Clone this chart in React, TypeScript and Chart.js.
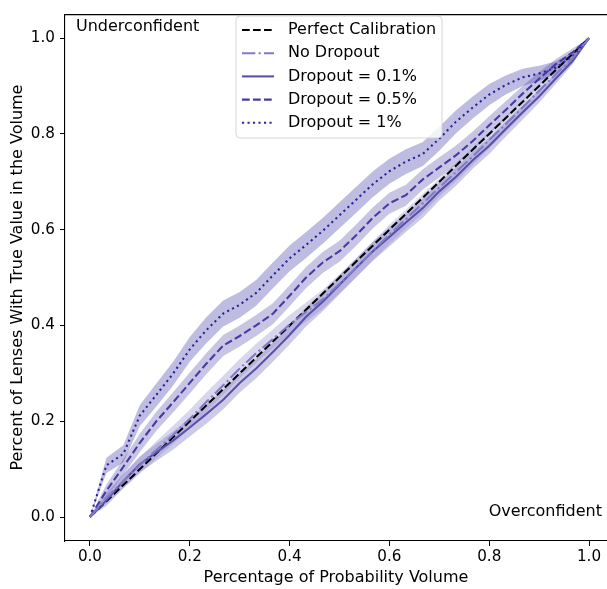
import React, { useEffect, useRef } from 'react';
import { Chart, registerables } from 'chart.js';

Chart.register(...registerables);

const xValues = [0, 0.033, 0.067, 0.1, 0.133, 0.167, 0.2, 0.233, 0.267, 0.3, 0.333, 0.367, 0.4, 0.433, 0.467, 0.5, 0.533, 0.567, 0.6, 0.633, 0.667, 0.7, 0.733, 0.767, 0.8, 0.833, 0.867, 0.9, 0.933, 0.967, 1.0];

const perfectX = [0, 1];
const perfectY = [0, 1];

const noDropoutMean = [0, 0.04, 0.075, 0.108, 0.14, 0.172, 0.205, 0.24, 0.275, 0.31, 0.342, 0.372, 0.402, 0.428, 0.455, 0.487, 0.52, 0.556, 0.59, 0.622, 0.655, 0.688, 0.72, 0.753, 0.787, 0.82, 0.855, 0.89, 0.924, 0.958, 1.0];
const noDropoutSpread = [0, 0.012, 0.015, 0.017, 0.018, 0.019, 0.019, 0.02, 0.02, 0.02, 0.02, 0.02, 0.02, 0.02, 0.02, 0.02, 0.02, 0.02, 0.02, 0.02, 0.02, 0.019, 0.019, 0.018, 0.017, 0.016, 0.015, 0.013, 0.011, 0.007, 0];

const dropout01Mean = [0, 0.035, 0.075, 0.11, 0.135, 0.16, 0.187, 0.215, 0.245, 0.28, 0.31, 0.345, 0.38, 0.418, 0.45, 0.485, 0.52, 0.555, 0.585, 0.615, 0.645, 0.68, 0.71, 0.745, 0.775, 0.81, 0.845, 0.878, 0.915, 0.952, 1.0];
const dropout01Spread = [0, 0.012, 0.015, 0.017, 0.018, 0.019, 0.019, 0.02, 0.02, 0.02, 0.02, 0.02, 0.02, 0.02, 0.02, 0.02, 0.02, 0.02, 0.02, 0.02, 0.02, 0.019, 0.019, 0.018, 0.017, 0.016, 0.015, 0.013, 0.011, 0.007, 0];

const dropout05Mean = [0, 0.055, 0.105, 0.155, 0.2, 0.24, 0.28, 0.32, 0.358, 0.378, 0.4, 0.425, 0.462, 0.5, 0.532, 0.555, 0.588, 0.625, 0.655, 0.672, 0.705, 0.73, 0.755, 0.785, 0.818, 0.85, 0.884, 0.915, 0.945, 0.97, 1.0];
const dropout05Spread = [0, 0.013, 0.016, 0.019, 0.02, 0.021, 0.022, 0.022, 0.022, 0.022, 0.022, 0.022, 0.022, 0.022, 0.022, 0.022, 0.022, 0.022, 0.022, 0.022, 0.021, 0.021, 0.02, 0.02, 0.019, 0.018, 0.016, 0.014, 0.011, 0.008, 0];

const dropout1Mean = [0, 0.108, 0.132, 0.212, 0.255, 0.3, 0.35, 0.39, 0.425, 0.443, 0.468, 0.505, 0.54, 0.568, 0.598, 0.63, 0.662, 0.695, 0.722, 0.742, 0.758, 0.79, 0.825, 0.855, 0.882, 0.902, 0.918, 0.926, 0.938, 0.962, 1.0];
const dropout1Spread = [0, 0.016, 0.018, 0.022, 0.024, 0.025, 0.026, 0.027, 0.027, 0.027, 0.027, 0.027, 0.027, 0.027, 0.027, 0.027, 0.027, 0.027, 0.026, 0.026, 0.025, 0.025, 0.024, 0.023, 0.022, 0.02, 0.018, 0.016, 0.013, 0.009, 0];

const xTicks = [0, 0.2, 0.4, 0.6, 0.8, 1.0];
const yTicks = [0, 0.2, 0.4, 0.6, 0.8, 1.0];

const seriesNames = ['No Dropout', 'Dropout = 0.1%', 'Dropout = 0.5%', 'Dropout = 1%'];
const seriesMeans = [noDropoutMean, dropout01Mean, dropout05Mean, dropout1Mean];
const seriesSpreads = [noDropoutSpread, dropout01Spread, dropout05Spread, dropout1Spread];
const seriesColors: [number, number, number][] = [
  [128, 122, 200],
  [88, 80, 172],
  [70, 58, 166],
  [44, 32, 156],
];
const seriesDashes = [
  [13.3, 3.3, 2.1, 3.3],
  [],
  [7.7, 3.3],
  [2.1, 3.4],
];

const FONT = '"DejaVu Sans", sans-serif';
const FS_TEXT = 16;
const FS_TICK = 15.2;

const rgba = (c: [number, number, number], a: number) => `rgba(${c[0]},${c[1]},${c[2]},${a})`;

export default function App() {
  const ref = useRef<HTMLCanvasElement | null>(null);

  useEffect(() => {
    const canvas = ref.current;
    if (!canvas) return;

    const datasets: any[] = [];
    seriesMeans.forEach((mean, s) => {
      const spread = seriesSpreads[s];
      const lowerIdx = datasets.length;
      datasets.push({
        label: '_band_lo_' + s,
        data: xValues.map((x, i) => ({ x, y: mean[i] - spread[i] })),
        showLine: true,
        borderWidth: 0,
        borderColor: 'rgba(0,0,0,0)',
        pointRadius: 0,
        fill: false,
        order: 2,
      });
      datasets.push({
        label: '_band_hi_' + s,
        data: xValues.map((x, i) => ({ x, y: mean[i] + spread[i] })),
        showLine: true,
        borderWidth: 0,
        borderColor: 'rgba(0,0,0,0)',
        pointRadius: 0,
        fill: lowerIdx,
        backgroundColor: rgba(seriesColors[s], 0.3),
        order: 2,
      });
    });
    datasets.push({
      label: 'Perfect Calibration',
      data: perfectX.map((x, i) => ({ x, y: perfectY[i] })),
      showLine: true,
      borderColor: '#000',
      borderWidth: 2.08,
      borderDash: [7.7, 3.3],
      pointRadius: 0,
      fill: false,
      order: 1,
    });
    seriesMeans.forEach((mean, s) => {
      datasets.push({
        label: seriesNames[s],
        data: xValues.map((x, i) => ({ x, y: mean[i] })),
        showLine: true,
        borderColor: rgba(seriesColors[s], 1),
        borderWidth: 2.08,
        borderDash: seriesDashes[s],
        pointRadius: 0,
        fill: false,
        order: 0,
      });
    });

    const overlay = {
      id: 'overlay',
      afterDraw(chart: any) {
        const { ctx, chartArea } = chart;
        ctx.save();
        ctx.strokeStyle = '#000';
        ctx.lineWidth = 1.1;
        ctx.beginPath();
        ctx.moveTo(chartArea.left, chartArea.top + 0.5);
        ctx.lineTo(chartArea.right, chartArea.top + 0.5);
        ctx.stroke();

        ctx.font = `${FS_TEXT}px ${FONT}`;
        ctx.fillStyle = '#000';
        ctx.textBaseline = 'middle';
        ctx.textAlign = 'left';
        ctx.fillText('Underconfident', 76, 27);
        ctx.textAlign = 'right';
        ctx.fillText('Overconfident', 602, 512);

        const bx = 236, by = 16, bw = 206, bh = 122, r = 4;
        ctx.beginPath();
        ctx.moveTo(bx + r, by);
        ctx.lineTo(bx + bw - r, by);
        ctx.arcTo(bx + bw, by, bx + bw, by + r, r);
        ctx.lineTo(bx + bw, by + bh - r);
        ctx.arcTo(bx + bw, by + bh, bx + bw - r, by + bh, r);
        ctx.lineTo(bx + r, by + bh);
        ctx.arcTo(bx, by + bh, bx, by + bh - r, r);
        ctx.lineTo(bx, by + r);
        ctx.arcTo(bx, by, bx + r, by, r);
        ctx.closePath();
        ctx.fillStyle = 'rgba(255,255,255,0.8)';
        ctx.fill();
        ctx.strokeStyle = 'rgba(204,204,204,0.8)';
        ctx.lineWidth = 1;
        ctx.stroke();

        const entries = [
          { label: 'Perfect Calibration', color: '#000', dash: [7.7, 3.3] },
          ...seriesNames.map((n, s) => ({ label: n, color: rgba(seriesColors[s], 1), dash: seriesDashes[s] })),
        ];
        entries.forEach((e, i) => {
          const y = 30 + i * 23.2;
          ctx.strokeStyle = e.color;
          ctx.lineWidth = 2.08;
          ctx.setLineDash(e.dash);
          ctx.beginPath();
          ctx.moveTo(242, y);
          ctx.lineTo(274, y);
          ctx.stroke();
          ctx.setLineDash([]);
          ctx.fillStyle = '#000';
          ctx.textAlign = 'left';
          ctx.textBaseline = 'middle';
          ctx.fillText(e.label, 288, y);
        });
        ctx.restore();
      },
    };

    const chart = new Chart(canvas, {
      type: 'scatter',
      data: { datasets },
      plugins: [overlay],
      options: {
        animation: false,
        responsive: false,
        maintainAspectRatio: false,
        layout: { padding: { top: 9, right: 0, bottom: 0, left: 0 } },
        plugins: {
          legend: { display: false },
          tooltip: { enabled: false },
        },
        scales: {
          x: {
            type: 'linear',
            min: -0.05,
            max: 1.036,
            afterBuildTicks: (scale: any) => {
              scale.ticks = xTicks.map((v) => ({ value: v }));
            },
            afterFit: (scale: any) => {
              scale.height = 48;
            },
            ticks: {
              color: '#000',
              padding: 2,
              font: { family: FONT, size: FS_TICK },
              callback: (v: any) => Number(v).toFixed(1),
            },
            grid: {
              display: true,
              drawOnChartArea: false,
              drawTicks: true,
              tickLength: 5,
              tickColor: '#000',
              tickWidth: 1,
            },
            border: { display: true, color: '#000', width: 1.1 },
            title: {
              display: true,
              text: 'Percentage of Probability Volume',
              color: '#000',
              font: { family: FONT, size: FS_TEXT },
              padding: { top: 0, bottom: 1.4 },
            },
          },
          y: {
            type: 'linear',
            min: -0.05,
            max: 1.05,
            afterBuildTicks: (scale: any) => {
              scale.ticks = yTicks.map((v) => ({ value: v }));
            },
            afterFit: (scale: any) => {
              scale.width = 65;
            },
            ticks: {
              color: '#000',
              padding: 5,
              font: { family: FONT, size: FS_TICK },
              callback: (v: any) => Number(v).toFixed(1),
            },
            grid: {
              display: true,
              drawOnChartArea: false,
              drawTicks: true,
              tickLength: 5,
              tickColor: '#000',
              tickWidth: 1,
            },
            border: { display: true, color: '#000', width: 1.1 },
            title: {
              display: true,
              text: 'Percent of Lenses With True Value in the Volume',
              color: '#000',
              font: { family: FONT, size: FS_TEXT },
              padding: { top: 8.4, bottom: 0 },
            },
          },
        },
      },
    });

    return () => {
      chart.destroy();
    };
  }, []);

  return (
    <div style={{ position: 'fixed', left: 0, top: 0, width: 607, height: 589, background: '#fff' }}>
      <canvas ref={ref} width={607} height={589} style={{ display: 'block', width: 607, height: 589 }} />
    </div>
  );
}
